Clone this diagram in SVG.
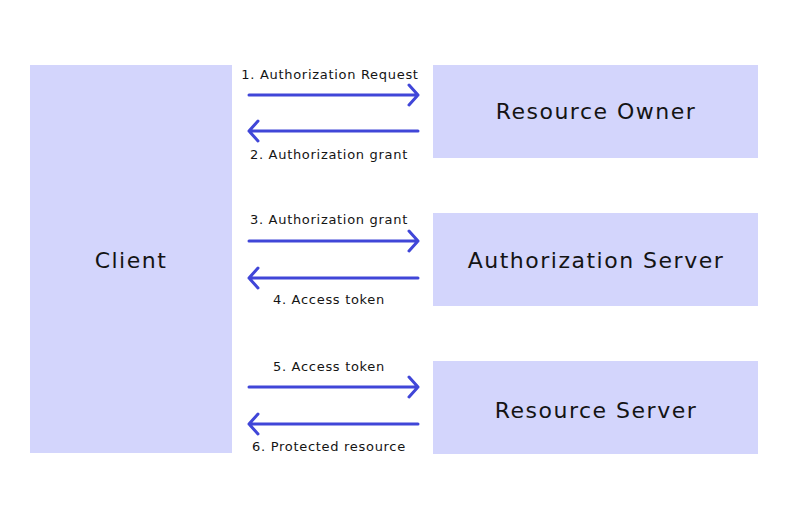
<svg xmlns="http://www.w3.org/2000/svg" width="800" height="519" viewBox="0 0 800 519">
<style>
.box{fill:#d3d5fc}
.nt{font-family:"DejaVu Sans","Liberation Sans",sans-serif;font-size:22px;letter-spacing:1.5px;fill:#141414;text-anchor:middle}
.lt{font-family:"DejaVu Sans","Liberation Sans",sans-serif;font-size:13px;letter-spacing:0.7px;fill:#141414;text-anchor:middle}
.ar{stroke:#4046d8;stroke-width:3;fill:none;stroke-linecap:round;stroke-linejoin:round}
</style>
<rect width="800" height="519" fill="#ffffff"/>
<g id="client"><rect class="box" x="30" y="65" width="202" height="388"/><text class="nt" x="131" y="268">Client</text></g>
<g id="resource-owner"><rect class="box" x="433" y="65" width="325" height="93"/><text class="nt" x="596" y="119">Resource Owner</text></g>
<g id="authorization-server"><rect class="box" x="433" y="213" width="325" height="93"/><text class="nt" x="596" y="268">Authorization Server</text></g>
<g id="resource-server"><rect class="box" x="433" y="361" width="325" height="93"/><text class="nt" x="596" y="418">Resource Server</text></g>
<g id="connectors">
<path class="ar" d="M249 95H418M409 85L418 95L409 105"/>
<path class="ar" d="M418 131H249M258 121L249 131L258 141"/>
<path class="ar" d="M249 241H418M409 231L418 241L409 251"/>
<path class="ar" d="M418 278H249M258 268L249 278L258 288"/>
<path class="ar" d="M249 387H418M409 377L418 387L409 397"/>
<path class="ar" d="M418 424H249M258 414L249 424L258 434"/>
<text class="lt" x="330" y="79">1. Authorization Request</text>
<text class="lt" x="329" y="159">2. Authorization grant</text>
<text class="lt" x="329" y="224">3. Authorization grant</text>
<text class="lt" x="329" y="304">4. Access token</text>
<text class="lt" x="329" y="371">5. Access token</text>
<text class="lt" x="329" y="451">6. Protected resource</text>
</g>
</svg>
